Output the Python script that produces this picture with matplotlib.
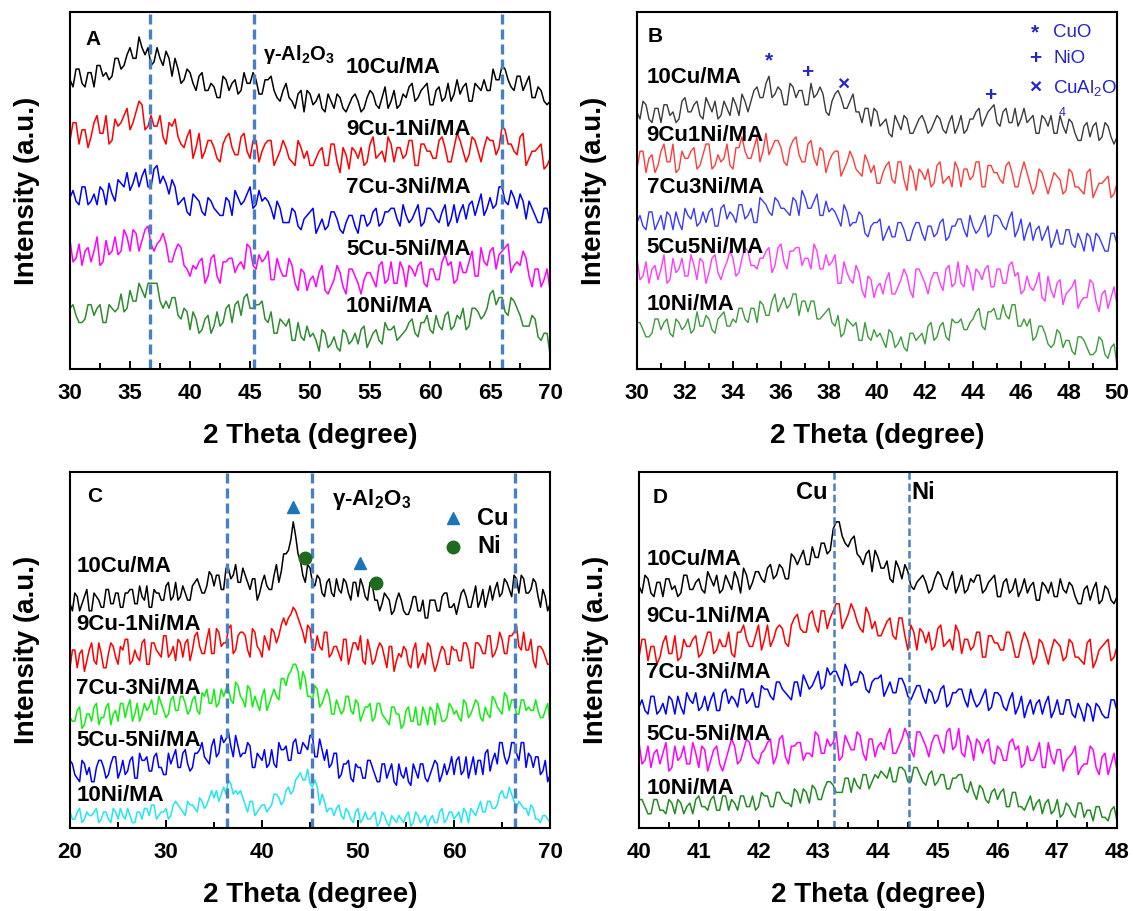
import numpy as np
import matplotlib
matplotlib.use('Agg')
import matplotlib.pyplot as plt
from matplotlib.ticker import MultipleLocator

plt.rcParams['font.family'] = ['Liberation Sans', 'DejaVu Sans']
plt.rcParams['font.weight'] = 'bold'
plt.rcParams['axes.labelweight'] = 'bold'
plt.rcParams['mathtext.default'] = 'regular'

# intensities in % of each panel's height,
# relative to the stacking offset of the trace; samples are evenly spaced over the x range

# ---- panel A: calcined catalysts, 30-70 deg, 0.25 deg step
a_10cu = [7,5,10,10,6,5,9,9,5,11,11,8,9,7,8,13,13,10,11,14,
          16,13,13,19,16,14,16,11,12,16,13,11,15,13,8,13,10,6,7,10,
          9,6,4,8,9,4,4,6,5,2,2,8,7,4,6,7,3,4,9,6,
          6,9,7,3,3,7,7,8,4,2,1,4,6,2,1,-1,3,4,-2,4,
          3,0,1,3,-1,-2,3,1,-1,3,2,-1,-2,0,2,3,1,-2,-1,2,
          4,3,0,-1,2,5,-1,1,4,-1,0,3,2,5,6,1,2,4,5,6,
          0,0,4,5,1,2,6,1,3,7,3,5,6,1,1,6,5,4,7,4,
          4,10,7,7,11,10,7,5,4,8,8,4,6,8,2,2,5,4,1,0,
          1]
a_9cu1ni = [6,11,11,5,9,9,4,7,11,13,8,8,13,5,6,12,10,11,13,15,
            9,11,14,17,16,9,10,13,10,10,13,7,5,11,10,12,7,5,4,7,
            9,1,4,8,1,3,6,6,4,1,0,5,7,8,4,2,2,7,8,3,
            1,6,6,0,3,5,6,6,-1,1,3,6,4,1,0,-1,6,4,1,3,
            -1,-1,1,3,4,-1,-1,5,5,0,-3,4,2,-2,4,3,1,4,-1,0,
            5,7,1,2,3,0,7,5,0,4,4,1,2,6,6,-1,-1,5,5,3,
            3,1,1,6,7,4,0,0,4,8,6,3,0,2,7,6,3,0,4,7,
            6,6,2,4,10,9,5,5,3,2,7,8,-1,1,3,3,4,5,-2,-1,
            1]
a_7cu3ni = [8,10,7,6,11,11,6,7,9,6,11,10,6,12,9,7,13,12,11,15,
            10,12,15,11,14,16,11,11,16,17,12,14,12,9,13,11,6,7,8,4,
            3,9,8,7,4,3,8,7,5,4,3,3,8,7,3,10,8,6,7,9,
            11,5,6,10,7,8,7,5,2,7,5,1,1,1,5,4,0,-1,2,3,
            4,5,-2,0,2,-1,0,4,4,2,-1,-2,1,3,3,0,-2,3,3,0,
            1,4,5,0,1,4,4,5,5,2,0,6,3,1,2,4,6,0,1,5,
            5,4,2,1,4,6,0,2,6,1,4,6,2,6,7,3,6,9,3,5,
            8,5,6,11,11,7,6,10,8,5,9,7,2,7,5,3,1,1,5,5,
            1]
a_5cu5ni = [12,6,7,11,5,9,10,6,9,13,5,6,12,8,9,13,8,9,15,13,
            9,15,14,9,12,15,16,11,9,11,12,14,11,6,6,9,11,10,5,4,
            2,5,4,6,7,0,2,7,8,2,0,6,6,7,7,3,5,6,4,11,
            10,5,4,8,6,7,9,1,1,7,4,2,2,7,5,0,-2,4,3,-2,
            1,2,-1,3,5,-2,-3,-1,1,5,3,-1,-3,4,4,2,0,-3,1,3,
            3,1,-1,5,6,0,1,6,0,0,6,4,-1,5,4,2,5,6,0,-1,
            4,4,1,1,6,8,5,6,0,1,6,3,3,6,9,2,2,10,6,5,
            9,10,4,8,9,10,11,3,5,6,5,9,7,2,-1,4,4,-1,1,4,
            -2]
a_10ni = [10,11,8,6,6,7,11,11,8,10,11,6,6,11,10,9,10,14,9,10,
          15,12,12,17,15,13,17,17,17,17,12,10,12,10,13,13,8,7,10,9,
          4,9,7,3,4,7,8,3,5,9,5,6,10,11,6,11,12,8,13,14,
          10,10,11,11,12,7,6,9,3,3,7,6,5,7,1,1,6,2,1,5,
          2,3,1,-2,4,3,-1,0,2,-1,-2,4,3,0,1,3,0,4,5,-1,
          1,3,4,1,0,6,4,4,5,1,2,3,4,6,7,3,2,6,6,8,
          4,3,8,5,4,8,9,4,5,8,7,10,4,5,10,10,9,7,8,10,
          14,15,11,13,13,9,8,13,12,10,8,5,5,5,8,7,2,1,3,3,
          -3]
a_offsets = [74, 58, 40, 24, 7]
a_alumina = [36.7, 45.3, 66.0]

# ---- panel B: 30-50 deg, 0.125 deg step
b_10cu = [6,4,9,8,4,3,7,7,3,8,8,5,6,3,4,9,10,6,6,8,
          9,5,4,10,8,6,9,4,5,9,7,5,10,8,5,11,9,6,9,12,
          13,10,10,14,16,10,11,13,12,8,8,14,13,10,12,12,8,8,14,10,
          11,13,11,6,5,9,11,12,10,7,7,9,11,6,6,3,7,7,2,7,
          6,2,3,4,0,-1,5,3,1,5,4,0,0,2,4,5,3,0,1,3,
          5,4,1,0,3,5,0,2,5,0,1,4,4,6,7,2,4,6,7,8,
          3,2,6,7,3,3,7,2,4,7,3,4,5,0,0,5,4,2,5,0,
          0,5,2,0,4,3,0,-2,-2,2,3,-1,2,3,-2,-1,3,2,-1,-3,
          -1]
b_9cu1ni = [5,10,10,4,8,9,4,6,10,12,7,7,12,4,5,10,8,8,10,11,
            5,6,9,12,12,5,6,9,7,8,12,6,5,11,11,14,10,8,8,11,
            14,7,10,15,9,11,13,13,11,7,6,11,13,14,9,7,7,12,13,8,
            6,11,10,4,7,9,10,10,3,5,7,10,8,5,4,3,9,7,4,6,
            1,1,4,6,7,2,1,7,7,2,-1,6,4,-1,5,4,2,5,0,1,
            6,7,1,2,3,0,7,5,0,5,5,2,3,7,7,0,0,6,6,4,
            4,2,1,6,7,4,0,0,4,7,4,1,-2,0,5,4,1,-2,1,4,
            3,2,-2,-1,5,4,0,0,-1,-2,4,5,-3,-1,1,1,2,3,-3,-2,
            1]
b_7cu3ni = [6,8,5,4,9,9,4,6,8,4,9,8,4,9,6,4,10,8,7,10,
            5,6,9,6,9,10,5,5,10,11,7,9,8,6,11,11,7,8,10,6,
            6,13,12,11,9,8,13,12,10,10,9,8,13,12,8,15,13,10,10,12,
            14,8,8,12,9,10,9,7,5,11,9,5,6,6,9,8,3,2,5,6,
            6,7,1,3,5,2,2,6,6,4,1,1,4,6,6,3,1,5,5,2,
            3,6,7,1,2,5,5,7,7,4,2,8,5,3,4,6,8,2,3,8,
            8,7,5,4,7,9,2,4,7,1,4,6,1,4,5,1,3,5,-1,1,
            4,0,0,4,4,0,-1,3,1,-2,3,2,-2,3,2,0,-2,-2,3,3,
            0]
b_5cu5ni = [11,5,6,10,4,8,9,5,8,12,4,5,11,7,8,11,6,6,12,9,
            5,11,10,4,7,11,12,7,5,8,10,13,11,6,7,11,14,13,9,9,
            8,11,11,13,14,7,9,14,15,10,8,13,13,14,14,9,11,11,8,15,
            13,8,8,12,9,10,12,4,4,10,7,5,4,9,7,2,0,6,5,0,
            3,4,1,5,7,1,1,3,5,8,6,2,0,8,8,6,4,1,5,7,
            7,4,2,8,9,3,4,10,4,3,9,7,2,8,7,5,8,9,3,3,
            8,8,4,4,9,10,6,7,1,2,6,3,2,4,7,0,-1,6,2,0,
            4,5,-2,1,2,3,5,-3,-1,0,0,5,4,-1,-4,1,2,-3,0,3,
            -2]
b_10ni = [8,8,6,4,4,5,9,9,6,8,9,5,4,9,8,6,7,9,5,6,
          11,7,7,10,9,6,5,9,10,11,7,7,9,8,12,12,9,8,12,12,
          8,14,13,10,10,14,16,11,13,15,12,13,16,16,10,14,14,11,14,14,
          9,9,10,11,12,8,7,10,4,5,9,8,7,8,3,3,8,4,3,6,
          4,5,3,1,6,5,1,2,4,1,0,5,5,3,4,5,2,7,8,3,
          4,7,8,4,3,9,8,8,9,6,6,8,9,11,12,7,6,11,11,12,
          9,9,13,10,9,13,13,7,7,9,7,9,3,4,7,7,5,2,1,2,
          6,5,1,3,3,0,-1,4,4,3,1,-1,-1,0,4,3,-1,-2,1,2,
          -4]
b_offsets = [66, 51, 35, 20, 5]
b_phase_marks = [('*', 35.5, 86.2), ('+', 37.1, 82.9), ('\u00d7', 38.6, 79.4), ('+', 44.7, 76.6)]

# ---- panel C: reduced catalysts, 20-70 deg, 0.25 deg step
c_10cu = [1,-1,4,3,-1,1,3,5,-1,-1,4,3,2,0,0,5,5,1,1,4,
          4,0,0,4,4,5,5,1,1,6,3,2,6,0,0,5,4,4,2,2,
          6,7,2,3,7,2,3,6,4,2,2,6,7,8,6,4,4,6,10,9,
          6,9,9,5,5,11,11,8,9,12,7,7,11,9,7,5,8,8,2,4,
          7,9,6,5,5,9,12,7,10,15,15,16,19,24,20,15,13,9,7,12,
          11,7,6,9,8,4,3,7,8,4,3,8,5,4,8,7,4,2,7,7,
          3,8,6,3,2,7,6,2,2,-1,1,4,3,2,-2,-1,2,4,2,-1,
          -2,-2,0,3,3,-1,-1,2,-3,-3,2,2,2,-1,-1,3,4,4,0,0,
          1,-2,1,4,5,3,0,0,3,6,0,2,5,0,3,6,2,5,7,3,
          4,8,7,5,3,9,8,4,9,8,4,4,5,8,7,3,0,5,3,-1,
          1]
c_9cu1ni = [-2,3,3,-2,2,3,-3,0,3,5,0,-1,5,2,-2,-2,2,5,4,1,
            -1,4,3,6,6,-1,0,3,1,0,5,6,-1,-1,5,5,3,2,1,7,
            7,1,2,4,0,6,5,1,5,6,0,3,7,8,4,2,2,6,9,2,
            2,9,8,4,5,5,9,10,2,3,7,8,8,7,3,1,9,8,4,3,
            1,7,5,3,9,8,5,7,10,12,10,12,13,15,14,12,10,8,5,10,
            9,3,3,7,4,3,8,8,1,2,4,4,2,0,6,6,-1,2,5,5,
            3,7,0,-1,6,3,-1,0,3,5,4,1,-2,4,4,-3,0,2,1,4,
            3,-1,-2,3,5,-2,0,2,-1,5,4,0,-3,-1,2,4,3,-1,-1,4,
            3,3,0,0,5,5,3,-2,-2,5,5,4,2,2,7,7,1,2,4,8,
            6,2,2,7,7,8,10,4,3,8,3,3,6,0,-2,4,4,3,1,-1,
            -1]
c_7cu3ni = [0,-1,-1,2,3,-3,-2,1,1,-1,3,4,-2,0,0,3,4,-2,1,2,
            -1,4,4,0,3,5,-1,1,4,-1,1,4,2,3,5,1,1,6,4,2,
            0,1,5,6,2,2,6,6,4,1,2,5,6,2,1,7,6,8,4,4,
            8,3,4,8,6,8,8,5,4,10,9,6,5,3,9,8,3,6,4,2,
            6,8,2,4,6,8,6,5,11,11,9,12,13,15,15,13,8,13,11,6,
            6,5,9,8,3,4,6,8,6,1,1,5,3,1,2,6,6,2,1,5,
            4,-1,1,3,3,4,-1,0,4,4,1,0,-1,-2,3,3,1,1,-3,-2,
            2,3,-1,-1,3,-2,-2,3,1,-2,3,2,-2,4,2,-1,-1,0,4,3,
            1,2,0,-1,5,4,0,1,3,5,4,0,-1,3,1,0,6,5,3,2,
            1,7,6,2,5,5,1,1,5,5,2,3,2,2,5,2,0,0,2,4,
            -2]
c_5cu5ni = [4,3,0,-1,-2,4,3,0,2,-2,-2,2,4,4,2,-1,0,3,5,5,
            -1,1,4,0,1,4,5,-1,-1,6,4,4,5,1,1,5,6,2,2,0,
            0,6,3,5,7,2,2,6,7,3,1,2,6,6,7,9,5,4,3,8,
            10,5,6,11,9,10,12,8,5,11,8,5,6,6,9,8,2,2,6,5,
            4,7,2,3,7,3,2,9,7,7,8,4,4,9,10,6,6,9,8,7,
            11,11,5,5,10,7,4,7,2,3,6,6,-1,0,3,3,4,-1,-2,3,
            2,2,-1,-1,4,4,2,0,-2,-2,3,3,-1,1,3,-2,-3,3,0,-1,
            2,-2,-3,3,1,-1,3,3,-1,-2,0,2,4,3,-2,0,3,0,2,5,
            0,4,5,0,1,5,-1,2,5,0,4,4,0,6,7,1,4,6,3,9,
            9,5,3,5,9,9,6,4,9,9,2,6,5,2,5,5,0,1,4,-2,
            0]
c_10ni = [3,1,1,3,4,0,1,3,2,2,3,4,0,1,3,3,1,0,4,3,
          1,4,2,1,4,2,0,0,3,3,1,4,4,2,5,5,1,2,3,3,
          4,1,2,5,6,5,4,3,2,6,5,5,4,3,7,6,4,5,7,9,
          7,9,6,8,10,8,12,11,8,9,8,9,7,5,3,6,6,2,3,4,
          5,5,3,4,5,8,8,7,5,6,9,10,8,9,12,13,14,12,12,15,
          11,10,12,10,5,8,6,3,4,4,2,4,5,2,1,4,3,1,0,3,
          4,0,1,3,1,1,2,3,-1,0,3,2,0,-1,2,1,0,2,1,0,
          2,3,-1,0,3,2,0,1,2,-1,1,2,0,0,3,4,0,1,3,3,
          1,2,3,0,4,3,0,4,3,2,4,6,3,3,6,6,4,4,5,8,
          9,7,7,10,8,6,4,6,5,4,4,2,5,4,1,1,0,2,2,1,
          0]
c_offsets = [62, 47, 31, 15, 1.5]
c_alumina = [36.35, 45.2, 66.35]
c_cu_marks = [(43.2, 90.2), (50.2, 74.5)]
c_ni_marks = [(44.5, 75.9), (51.9, 68.8)]

# ---- panel D: reduced catalysts, 40-48 deg, 0.05 deg step
d_10cu = [3,1,6,5,1,0,4,4,0,5,5,2,3,0,1,6,6,2,2,4,
          5,2,1,7,5,3,6,1,2,6,4,2,7,5,1,8,6,2,4,7,
          7,5,4,8,9,5,6,9,8,5,5,12,11,9,11,13,9,9,14,11,
          11,15,15,12,13,19,21,21,17,15,14,16,17,12,11,9,12,13,7,13,
          11,8,8,10,5,4,10,8,5,9,7,3,2,4,5,6,4,1,2,5,
          7,6,3,2,5,7,1,3,6,1,2,5,4,6,6,1,2,4,5,6,
          0,0,4,5,1,2,5,0,2,5,1,3,4,-1,-1,4,3,1,4,0,
          0,5,2,1,4,3,0,-2,-2,2,3,-1,2,4,-2,-1,3,2,-1,-2,
          0]
d_9cu1ni = [-1,4,4,-2,2,2,-3,-1,3,5,0,0,5,-2,-1,4,2,2,4,5,
            -1,0,3,6,6,0,1,4,2,2,6,0,-1,6,6,8,4,2,2,5,
            8,1,4,8,2,4,7,8,7,3,2,8,10,11,7,6,6,11,12,8,
            6,12,12,7,10,12,14,14,7,9,11,14,12,9,7,6,13,11,7,9,
            5,5,7,9,10,5,4,10,10,5,1,8,6,1,7,6,3,6,1,2,
            7,8,2,3,4,1,8,6,0,4,4,1,2,6,6,-1,-1,5,5,3,
            3,1,1,6,6,3,-1,-1,3,6,4,1,-3,-1,4,3,0,-3,1,4,
            3,2,-2,-1,4,3,-1,-1,-2,-3,3,4,-4,-2,1,2,3,4,-2,-1,
            2]
d_7cu3ni = [1,3,0,-1,4,4,-1,0,2,-1,4,3,-1,4,1,-1,5,3,2,5,
            0,1,4,0,3,5,0,0,5,6,2,4,3,1,6,6,2,3,5,1,
            1,7,6,6,4,3,8,8,6,5,4,3,8,8,4,10,8,6,7,9,
            11,6,7,12,10,11,11,9,7,13,11,7,8,8,11,10,6,5,8,9,
            9,10,4,6,8,5,5,9,9,7,4,3,5,7,7,4,2,6,5,2,
            3,6,7,1,2,5,5,6,6,3,1,6,3,1,2,4,6,0,1,5,
            5,4,1,0,3,5,-1,1,4,-2,1,3,-1,2,3,-1,2,4,-2,0,
            3,-1,-1,3,3,-1,-2,2,0,-3,2,1,-3,2,1,-1,-2,-2,3,3,
            0]
d_5cu5ni = [6,0,1,5,-1,3,4,0,3,6,-2,-1,5,1,2,5,0,0,6,3,
            -1,5,4,-2,1,4,5,0,-2,1,4,7,5,0,1,4,7,6,2,1,
            0,3,4,6,7,0,2,7,8,2,0,5,5,6,6,1,3,3,2,9,
            8,3,3,7,5,6,9,1,2,8,6,4,4,9,8,3,1,7,7,2,
            5,6,4,8,10,3,3,5,7,10,8,4,2,9,9,7,5,2,6,8,
            8,5,3,9,10,4,5,10,3,2,8,6,1,7,6,3,6,7,1,0,
            5,4,1,1,6,7,4,5,-1,0,5,1,1,3,6,-1,-1,6,2,0,
            4,4,-2,1,2,3,5,-3,-1,0,0,5,4,-1,-3,2,3,-3,0,3,
            -2]
d_10ni = [5,5,3,1,1,5,5,2,2,1,5,4,1,5,4,1,3,4,1,5,
          6,3,3,2,5,6,2,2,6,6,2,5,4,2,6,6,3,3,6,2,
          3,7,6,6,3,3,7,7,5,4,4,3,8,7,4,8,7,4,9,8,
          5,5,8,10,10,9,7,7,7,11,11,7,11,9,8,12,12,8,10,12,
          11,13,12,11,14,10,10,14,14,13,10,10,14,14,12,10,9,12,13,9,
          10,12,12,8,8,11,11,12,12,8,7,10,7,5,9,8,5,4,7,8,
          5,7,8,3,3,7,7,3,3,2,4,6,2,4,5,1,4,5,1,2,
          5,0,1,4,3,1,0,4,4,0,2,2,-1,3,3,0,0,-1,2,3,
          -1]
d_offsets = [65, 49, 33, 18, 3]
d_refs = [43.26, 44.52]

labels_dash = ['10Cu/MA', '9Cu-1Ni/MA', '7Cu-3Ni/MA', '5Cu-5Ni/MA', '10Ni/MA']
labels_b = ['10Cu/MA', '9Cu1Ni/MA', '7Cu3Ni/MA', '5Cu5Ni/MA', '10Ni/MA']

dash_blue = '#4a7fc0'
mark_blue = '#2424c8'


def draw_panel(ax, series, offsets, colors, xlim, major, minor, lw=1.1):
    for s, off, c in zip(series, offsets, colors):
        theta = np.linspace(xlim[0], xlim[1], len(s))
        ax.plot(theta, np.array(s) + off, color=c, lw=lw)
    ax.set_xlim(*xlim)
    ax.set_ylim(0, 100)
    ax.xaxis.set_major_locator(MultipleLocator(major))
    ax.xaxis.set_minor_locator(MultipleLocator(minor))
    ax.tick_params(axis='x', which='both', direction='in', labelsize=16, pad=10, width=1.4)
    ax.tick_params(axis='x', which='major', length=6)
    ax.tick_params(axis='x', which='minor', length=4)
    ax.tick_params(axis='y', left=False, labelleft=False)
    for sp in ax.spines.values():
        sp.set_linewidth(1.5)
    ax.set_xlabel('2 Theta (degree)', fontsize=20, labelpad=14)
    ax.set_ylabel('Intensity (a.u.)', fontsize=20)
    ax.yaxis.set_label_coords(-0.062, 0.5)


def put_labels(ax, x, ys, labels, size=16):
    for y, lab in zip(ys, labels):
        ax.text(x, y, lab, fontsize=size, ha='left', va='center')


fig = plt.figure(figsize=(11.33, 9.11), dpi=100)
axA = fig.add_axes([0.0618, 0.5950, 0.4237, 0.3919])
axB = fig.add_axes([0.5622, 0.5950, 0.4237, 0.3919])
axC = fig.add_axes([0.0618, 0.0911, 0.4237, 0.3908])
axD = fig.add_axes([0.5640, 0.0911, 0.4219, 0.3908])

# A
draw_panel(axA, [a_10cu, a_9cu1ni, a_7cu3ni, a_5cu5ni, a_10ni], a_offsets,
           ['black', '#ff0000', '#0000ff', '#ff00ff', '#2e8b2e'], (30, 70), 5, 2.5)
for x in a_alumina:
    axA.axvline(x, color=dash_blue, lw=2.4, ls=(0, (3, 1.5)))
put_labels(axA, 53.0, [84.3, 67.0, 50.7, 33.4, 17.5], labels_dash)
axA.text(31.3, 92.2, 'A', fontsize=15, va='center')
axA.text(46.05, 88.0, 'γ-Al$_2$O$_3$', fontsize=14.5, va='center')

# B
draw_panel(axB, [b_10cu, b_9cu1ni, b_7cu3ni, b_5cu5ni, b_10ni], b_offsets,
           ['#3a3a3a', '#ff3b3b', '#3a3aff', '#ff3bff', '#3c9c3c'], (30, 50), 2, 1, lw=1.0)
put_labels(axB, 30.4, [81.7, 65.5, 50.9, 34.0, 18.0], labels_b)
axB.text(30.45, 93.0, 'B', fontsize=15, va='center')
for sym, x, y in b_phase_marks:
    axB.text(x, y, sym, fontsize=15, color=mark_blue, ha='center', va='center')
for sym, name, y in [('*', 'CuO', 94.2), ('+', 'NiO', 86.9), ('\u00d7', 'CuAl$_2$O', 78.7)]:
    axB.text(46.6, y, sym, fontsize=15, color=mark_blue, ha='center', va='center')
    axB.text(47.35, y, name, fontsize=13.5, color=mark_blue, fontweight='normal', va='center')
axB.text(47.55, 71.6, '4', fontsize=9, color=mark_blue, fontweight='normal', va='center')

# C
draw_panel(axC, [c_10cu, c_9cu1ni, c_7cu3ni, c_5cu5ni, c_10ni], c_offsets,
           ['black', '#ff0000', '#11ee11', '#0000ff', '#22e6f2'], (20, 70), 10, 5)
for x in c_alumina:
    axC.axvline(x, color=dash_blue, lw=2.4, ls=(0, (3, 1.5)))
put_labels(axC, 20.67, [73.5, 57.1, 39.2, 24.7, 9.2], labels_dash)
axC.text(21.8, 93.2, 'C', fontsize=15, va='center')
axC.text(47.33, 92.3, 'γ-Al$_2$O$_3$', fontsize=16, va='center')
for x, y in c_cu_marks:
    axC.plot(x, y, marker='^', ms=9, color='#1b75bb', ls='none')
for x, y in c_ni_marks:
    axC.plot(x, y, marker='o', ms=9, color='#1e6b1e', ls='none')
axC.plot(59.9, 87.0, marker='^', ms=9, color='#1b75bb', ls='none')
axC.plot(59.9, 79.0, marker='o', ms=9, color='#1e6b1e', ls='none')
axC.text(62.4, 87.0, 'Cu', fontsize=17, va='center')
axC.text(62.4, 79.0, 'Ni', fontsize=17, va='center')

# D
draw_panel(axD, [d_10cu, d_9cu1ni, d_7cu3ni, d_5cu5ni, d_10ni], d_offsets,
           ['black', '#ff0000', '#0000ff', '#ff00ff', '#228b22'], (40, 48), 1, 0.5)
for x in d_refs:
    axD.axvline(x, color=dash_blue, lw=1.8, ls=(0, (3, 1.5)))
put_labels(axD, 40.12, [75.4, 59.5, 43.6, 26.2, 11.2], labels_dash)
axD.text(40.23, 92.8, 'D', fontsize=15, va='center')
axD.text(43.16, 94.2, 'Cu', fontsize=17, ha='right', va='center')
axD.text(44.56, 94.2, 'Ni', fontsize=17, ha='left', va='center')

fig.savefig('out.png', dpi=100)
